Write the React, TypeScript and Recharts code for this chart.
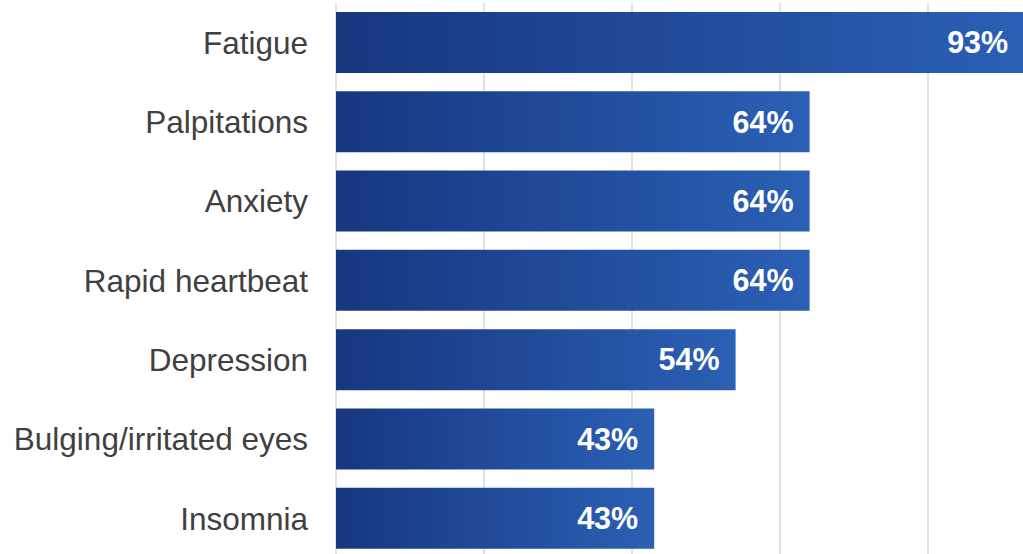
import React from 'react';
import { BarChart, Bar, XAxis, YAxis, CartesianGrid, LabelList } from 'recharts';

const symptoms = [
  'Fatigue',
  'Palpitations',
  'Anxiety',
  'Rapid heartbeat',
  'Depression',
  'Bulging/irritated eyes',
  'Insomnia',
];
const percents = [93, 64, 64, 64, 54, 43, 43];
const xTicks = [0, 20, 40, 60, 80, 100];

const data = symptoms.map((name, i) => ({ name, value: percents[i] }));

const App: React.FC = () => {
  return (
    <div
      style={{
        position: 'absolute',
        top: 0,
        left: 0,
        width: 1023,
        height: 554,
        overflow: 'hidden',
        background: '#fff',
      }}
    >
      <BarChart
        width={1080}
        height={558}
        data={data}
        layout="vertical"
        margin={{ top: 3, right: 4, bottom: 0, left: 0 }}
      >
        <defs>
          <linearGradient id="barGrad" x1="0" y1="0" x2="1" y2="0">
            <stop offset="0%" stopColor="#17377f" />
            <stop offset="100%" stopColor="#2b60b5" />
          </linearGradient>
        </defs>
        <CartesianGrid horizontal={false} stroke="#d9d9d9" strokeWidth={1.5} />
        <XAxis type="number" domain={[0, 100]} ticks={xTicks} hide />
        <YAxis
          type="category"
          dataKey="name"
          width={336}
          axisLine={false}
          tickLine={false}
          tickSize={0}
          tickMargin={28}
          tick={{ fill: '#404040', fontSize: 31.5, fontFamily: 'Liberation Sans, Arial, sans-serif' }}
        />
        <Bar dataKey="value" fill="url(#barGrad)" barSize={61} isAnimationActive={false}>
          <LabelList
            dataKey="value"
            position="insideRight"
            offset={16}
            formatter={(v: number) => `${v}%`}
            fill="#ffffff"
            style={{ fontSize: 30.5, fontWeight: 'bold', fontFamily: 'Liberation Sans, Arial, sans-serif' }}
          />
        </Bar>
      </BarChart>
    </div>
  );
};

export default App;
